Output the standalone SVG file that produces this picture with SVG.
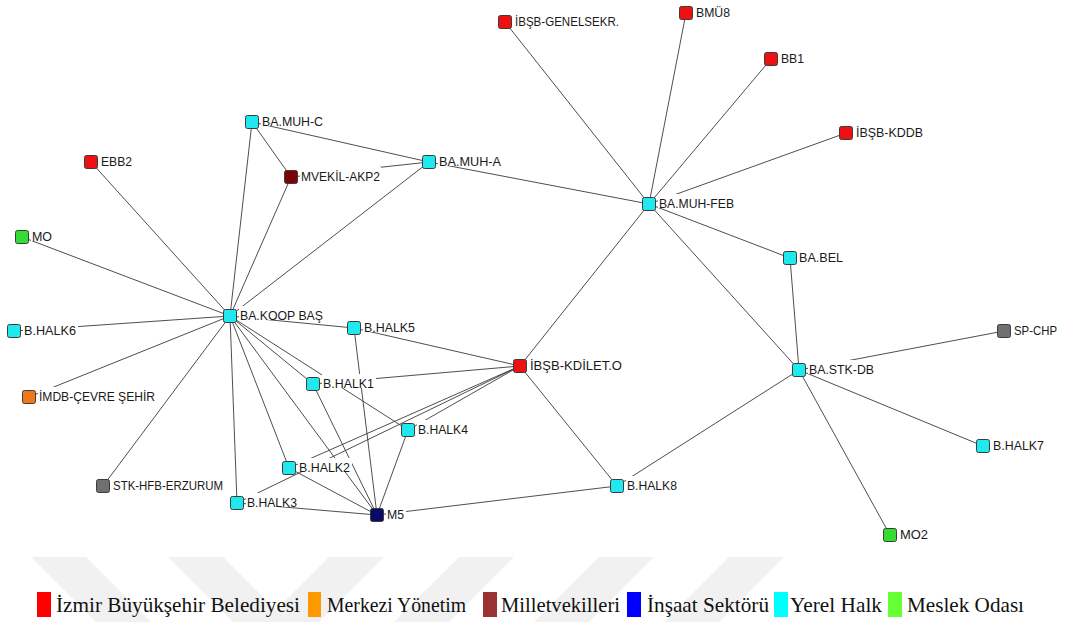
<svg xmlns="http://www.w3.org/2000/svg" width="1067" height="622" viewBox="0 0 1067 622">
<style>
.bg{fill:#ffffff}
.wm{fill:#f1f1f1}
.e{stroke:#3a3a3a;stroke-width:0.9;fill:none}
.n{stroke:#3c3c3c;stroke-width:1}
.lb{fill:#ffffff}
.t{font-family:"Liberation Sans",Arial,sans-serif;font-size:13px;fill:#1a1a1a}
.c{fill:#1fe8ee}.r{fill:#ee1111}.dr{fill:#7a0505}.nv{fill:#0a0a6a}.g{fill:#33dd33}.o{fill:#f07818}.gy{fill:#707070}
.lg{font-family:"Liberation Serif","Times New Roman",serif;font-size:22px;fill:#111}
</style>
<rect class="bg" x="0" y="0" width="1067" height="622"/>
<g id="watermark">
<polygon class="wm" points="31,557 86,557 151,622 96,622"/>
<polygon class="wm" points="168,557 223,557 288,622 233,622"/>
<polygon class="wm" points="329,557 384,557 319,622 264,622"/>
<polygon class="wm" points="459,557 514,557 449,622 394,622"/>
<polygon class="wm" points="599,557 654,557 589,622 534,622"/>
<polygon class="wm" points="729,557 784,557 719,622 664,622"/>
</g>
<g id="connectors">
<line class="e" x1="230" y1="316" x2="22" y2="237"/>
<line class="e" x1="230" y1="316" x2="91" y2="162"/>
<line class="e" x1="230" y1="316" x2="252" y2="122"/>
<line class="e" x1="230" y1="316" x2="291" y2="177"/>
<line class="e" x1="230" y1="316" x2="429" y2="162"/>
<line class="e" x1="230" y1="316" x2="14" y2="331"/>
<line class="e" x1="230" y1="316" x2="29" y2="397"/>
<line class="e" x1="230" y1="316" x2="103" y2="486"/>
<line class="e" x1="230" y1="316" x2="237" y2="503"/>
<line class="e" x1="230" y1="316" x2="289" y2="468"/>
<line class="e" x1="230" y1="316" x2="377" y2="515"/>
<line class="e" x1="230" y1="316" x2="313" y2="384"/>
<line class="e" x1="230" y1="316" x2="408" y2="430"/>
<line class="e" x1="230" y1="316" x2="354" y2="328"/>
<line class="e" x1="252" y1="122" x2="429" y2="162"/>
<line class="e" x1="252" y1="122" x2="291" y2="177"/>
<line class="e" x1="291" y1="177" x2="429" y2="162"/>
<line class="e" x1="429" y1="162" x2="649" y2="204"/>
<line class="e" x1="649" y1="204" x2="505" y2="22"/>
<line class="e" x1="649" y1="204" x2="686" y2="13"/>
<line class="e" x1="649" y1="204" x2="771" y2="59"/>
<line class="e" x1="649" y1="204" x2="846" y2="133"/>
<line class="e" x1="649" y1="204" x2="790" y2="258"/>
<line class="e" x1="649" y1="204" x2="799" y2="370"/>
<line class="e" x1="649" y1="204" x2="520" y2="366"/>
<line class="e" x1="790" y1="258" x2="799" y2="370"/>
<line class="e" x1="799" y1="370" x2="1004" y2="331"/>
<line class="e" x1="799" y1="370" x2="983" y2="446"/>
<line class="e" x1="799" y1="370" x2="890" y2="535"/>
<line class="e" x1="799" y1="370" x2="617" y2="486"/>
<line class="e" x1="520" y1="366" x2="617" y2="486"/>
<line class="e" x1="520" y1="366" x2="354" y2="328"/>
<line class="e" x1="520" y1="366" x2="313" y2="384"/>
<line class="e" x1="520" y1="366" x2="408" y2="430"/>
<line class="e" x1="520" y1="366" x2="289" y2="468"/>
<line class="e" x1="520" y1="366" x2="237" y2="503"/>
<line class="e" x1="377" y1="515" x2="354" y2="328"/>
<line class="e" x1="377" y1="515" x2="313" y2="384"/>
<line class="e" x1="377" y1="515" x2="408" y2="430"/>
<line class="e" x1="377" y1="515" x2="289" y2="468"/>
<line class="e" x1="377" y1="515" x2="237" y2="503"/>
<line class="e" x1="377" y1="515" x2="617" y2="486"/>
</g>
<g id="n-genel"><rect class="lb" x="514" y="12" width="107" height="14"/><rect class="n r" x="498.5" y="15.5" width="13" height="13" rx="2"/><text class="t" x="515" y="26" textLength="104" lengthAdjust="spacingAndGlyphs">İBŞB-GENELSEKR.</text></g>
<g id="n-bmu8"><rect class="lb" x="695" y="3" width="37" height="14"/><rect class="n r" x="679.5" y="6.5" width="13" height="13" rx="2"/><text class="t" x="696" y="17" textLength="34" lengthAdjust="spacingAndGlyphs">BMÜ8</text></g>
<g id="n-bb1"><rect class="lb" x="780" y="49" width="26" height="14"/><rect class="n r" x="764.5" y="52.5" width="13" height="13" rx="2"/><text class="t" x="781" y="63" textLength="23" lengthAdjust="spacingAndGlyphs">BB1</text></g>
<g id="n-kddb"><rect class="lb" x="855" y="123" width="70" height="14"/><rect class="n r" x="839.5" y="126.5" width="13" height="13" rx="2"/><text class="t" x="856" y="137" textLength="67" lengthAdjust="spacingAndGlyphs">İBŞB-KDDB</text></g>
<g id="n-muhc"><rect class="lb" x="261" y="112" width="64" height="14"/><rect class="n c" x="245.5" y="115.5" width="13" height="13" rx="2"/><text class="t" x="262" y="126" textLength="61" lengthAdjust="spacingAndGlyphs">BA.MUH-C</text></g>
<g id="n-muha"><rect class="lb" x="438" y="152" width="65" height="14"/><rect class="n c" x="422.5" y="155.5" width="13" height="13" rx="2"/><text class="t" x="439" y="166" textLength="62" lengthAdjust="spacingAndGlyphs">BA.MUH-A</text></g>
<g id="n-ebb2"><rect class="lb" x="100" y="152" width="34" height="14"/><rect class="n r" x="84.5" y="155.5" width="13" height="13" rx="2"/><text class="t" x="101" y="166" textLength="31" lengthAdjust="spacingAndGlyphs">EBB2</text></g>
<g id="n-mvekil"><rect class="lb" x="300" y="167" width="81" height="14"/><rect class="n dr" x="284.5" y="170.5" width="13" height="13" rx="2"/><text class="t" x="301" y="181" textLength="79" lengthAdjust="spacingAndGlyphs">MVEKİL-AKP2</text></g>
<g id="n-feb"><rect class="lb" x="658" y="194" width="78" height="14"/><rect class="n c" x="642.5" y="197.5" width="13" height="13" rx="2"/><text class="t" x="659" y="208" textLength="75" lengthAdjust="spacingAndGlyphs">BA.MUH-FEB</text></g>
<g id="n-mo"><rect class="lb" x="31" y="227" width="23" height="14"/><rect class="n g" x="15.5" y="230.5" width="13" height="13" rx="2"/><text class="t" x="32" y="241" textLength="20" lengthAdjust="spacingAndGlyphs">MO</text></g>
<g id="n-bel"><rect class="lb" x="798" y="248" width="47" height="14"/><rect class="n c" x="783.5" y="251.5" width="13" height="13" rx="2"/><text class="t" x="799" y="262" textLength="44" lengthAdjust="spacingAndGlyphs">BA.BEL</text></g>
<g id="n-koop"><rect class="lb" x="239" y="306" width="86" height="14"/><rect class="n c" x="223.5" y="309.5" width="13" height="13" rx="2"/><text class="t" x="240" y="320" textLength="83" lengthAdjust="spacingAndGlyphs">BA.KOOP BAŞ</text></g>
<g id="n-halk6"><rect class="lb" x="23" y="321" width="55" height="14"/><rect class="n c" x="7.5" y="324.5" width="13" height="13" rx="2"/><text class="t" x="24" y="335" textLength="52" lengthAdjust="spacingAndGlyphs">B.HALK6</text></g>
<g id="n-halk5"><rect class="lb" x="363" y="318" width="54" height="14"/><rect class="n c" x="347.5" y="321.5" width="13" height="13" rx="2"/><text class="t" x="364" y="332" textLength="51" lengthAdjust="spacingAndGlyphs">B.HALK5</text></g>
<g id="n-spchp"><rect class="lb" x="1013" y="321" width="46" height="14"/><rect class="n gy" x="997.5" y="324.5" width="13" height="13" rx="2"/><text class="t" x="1014" y="335" textLength="43" lengthAdjust="spacingAndGlyphs">SP-CHP</text></g>
<g id="n-kdilet"><rect class="lb" x="529" y="356" width="95" height="14"/><rect class="n r" x="513.5" y="359.5" width="13" height="13" rx="2"/><text class="t" x="530" y="370" textLength="92" lengthAdjust="spacingAndGlyphs">İBŞB-KDİLET.O</text></g>
<g id="n-stkdb"><rect class="lb" x="808" y="360" width="68" height="14"/><rect class="n c" x="792.5" y="363.5" width="13" height="13" rx="2"/><text class="t" x="809" y="374" textLength="65" lengthAdjust="spacingAndGlyphs">BA.STK-DB</text></g>
<g id="n-halk1"><rect class="lb" x="322" y="374" width="54" height="14"/><rect class="n c" x="306.5" y="377.5" width="13" height="13" rx="2"/><text class="t" x="323" y="388" textLength="51" lengthAdjust="spacingAndGlyphs">B.HALK1</text></g>
<g id="n-imdb"><rect class="lb" x="38" y="387" width="119" height="14"/><rect class="n o" x="22.5" y="390.5" width="13" height="13" rx="2"/><text class="t" x="39" y="401" textLength="116" lengthAdjust="spacingAndGlyphs">İMDB-ÇEVRE ŞEHİR</text></g>
<g id="n-halk4"><rect class="lb" x="417" y="420" width="53" height="14"/><rect class="n c" x="401.5" y="423.5" width="13" height="13" rx="2"/><text class="t" x="418" y="434" textLength="50" lengthAdjust="spacingAndGlyphs">B.HALK4</text></g>
<g id="n-halk7"><rect class="lb" x="992" y="436" width="54" height="14"/><rect class="n c" x="976.5" y="439.5" width="13" height="13" rx="2"/><text class="t" x="993" y="450" textLength="51" lengthAdjust="spacingAndGlyphs">B.HALK7</text></g>
<g id="n-halk2"><rect class="lb" x="298" y="458" width="54" height="14"/><rect class="n c" x="282.5" y="461.5" width="13" height="13" rx="2"/><text class="t" x="299" y="472" textLength="51" lengthAdjust="spacingAndGlyphs">B.HALK2</text></g>
<g id="n-stkhfb"><rect class="lb" x="112" y="476" width="113" height="14"/><rect class="n gy" x="96.5" y="479.5" width="13" height="13" rx="2"/><text class="t" x="113" y="490" textLength="110" lengthAdjust="spacingAndGlyphs">STK-HFB-ERZURUM</text></g>
<g id="n-halk8"><rect class="lb" x="626" y="476" width="53" height="14"/><rect class="n c" x="610.5" y="479.5" width="13" height="13" rx="2"/><text class="t" x="627" y="490" textLength="50" lengthAdjust="spacingAndGlyphs">B.HALK8</text></g>
<g id="n-halk3"><rect class="lb" x="246" y="493" width="53" height="14"/><rect class="n c" x="230.5" y="496.5" width="13" height="13" rx="2"/><text class="t" x="247" y="507" textLength="50" lengthAdjust="spacingAndGlyphs">B.HALK3</text></g>
<g id="n-m5"><rect class="lb" x="386" y="505" width="20" height="14"/><rect class="n nv" x="370.5" y="508.5" width="13" height="13" rx="2"/><text class="t" x="387" y="519" textLength="17" lengthAdjust="spacingAndGlyphs">M5</text></g>
<g id="n-mo2"><rect class="lb" x="899" y="525" width="31" height="14"/><rect class="n g" x="883.5" y="528.5" width="13" height="13" rx="2"/><text class="t" x="900" y="539" textLength="28" lengthAdjust="spacingAndGlyphs">MO2</text></g>
<g id="legend">
<rect x="37" y="592" width="14" height="25" fill="#ff0000"/>
<text class="lg" x="56" y="612" textLength="244" lengthAdjust="spacingAndGlyphs">İzmir Büyükşehir Belediyesi</text>
<rect x="308" y="592" width="13" height="25" fill="#ff9900"/>
<text class="lg" x="327" y="612" textLength="139" lengthAdjust="spacingAndGlyphs">Merkezi Yönetim</text>
<rect x="483" y="592" width="14" height="25" fill="#993333"/>
<text class="lg" x="501" y="612" textLength="119" lengthAdjust="spacingAndGlyphs">Milletvekilleri</text>
<rect x="627" y="592" width="14" height="25" fill="#0000ff"/>
<text class="lg" x="647" y="612" textLength="122" lengthAdjust="spacingAndGlyphs">İnşaat Sektörü</text>
<rect x="774" y="592" width="14" height="25" fill="#00ffff"/>
<text class="lg" x="790" y="612" textLength="92" lengthAdjust="spacingAndGlyphs">Yerel Halk</text>
<rect x="888" y="592" width="14" height="25" fill="#66ff33"/>
<text class="lg" x="907" y="612" textLength="117" lengthAdjust="spacingAndGlyphs">Meslek Odası</text>
</g>
</svg>
